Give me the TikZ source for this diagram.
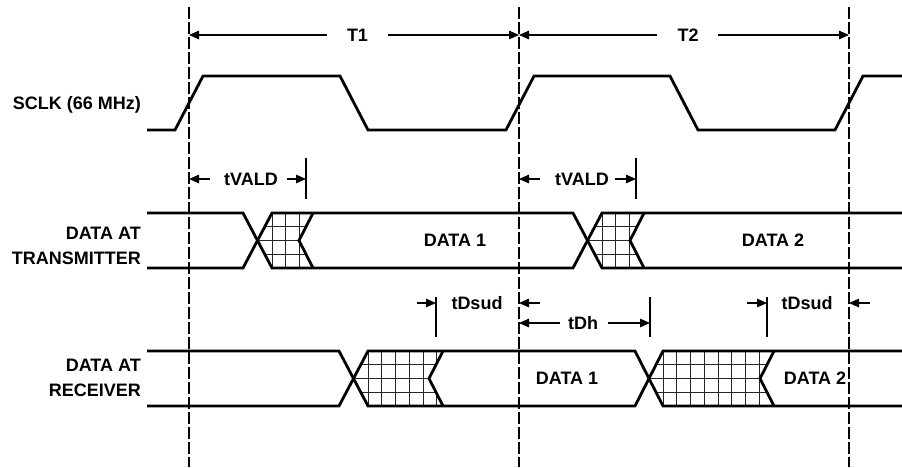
\documentclass[tikz,border=0pt]{standalone}
\usepackage{fontspec}
\setmainfont{Liberation Sans}
\usetikzlibrary{arrows.meta,calc}
\tikzset{
  sig/.style={line width=2.8pt},
  refline/.style={line width=1.2pt,dash pattern=on 12pt off 3pt},
  marker/.style={line width=1.3pt},
  dim/.style={line width=1.3pt,-{Triangle[length=10pt,width=8.5pt]}},
  lbl/.style={font=\fontsize{18}{25}\selectfont\bfseries,inner sep=0pt},
  hatchline/.style={line width=0.9pt,black!85}
}
\newcommand{\hatchfill}[4]{%
  \begin{scope}
    \clip ({#1-14.5},{(#3+#4)/2}) -- (#1,#3) -- (#2,#3) -- ({#2-14},{(#3+#4)/2}) -- (#2,#4) -- (#1,#4) -- cycle;
    \foreach \k in {-1,...,10} \draw[hatchline] ({#1+\k*13.75},#3) -- ({#1+\k*13.75},#4);
    \foreach \k in {1,2,3} \draw[hatchline] ({#1-15},{#3+\k*(#4-#3)/4}) -- (#2,{#3+\k*(#4-#3)/4});
  \end{scope}}

\begin{document}
\begin{tikzpicture}[x=1pt,y={(0pt,-1pt)}]
    \useasboundingbox (0,0) rectangle (902,467);
    \foreach \n/\x in {e0/189,e1/519,e2/849} {
      \coordinate (\n) at (\x,7);
      \draw[refline] (\n) -- (\x,467);
    }
    \hatchfill{272}{313}{213}{268}
    \hatchfill{602}{644}{213}{268}
    \hatchfill{368}{443}{351}{406}
    \hatchfill{663}{774}{351}{406}
    \draw[sig] plot coordinates {
      (147,130) (175,130) (203,76) (340,76) (368,130) (506,130) (534,76) (670,76) (698,130) (835,130) (863,76) (902,76)
    };
    \draw[sig] plot coordinates {(147,213) (243,213) (272,268) (573,268) (602,213) (902,213)};
    \draw[sig] plot coordinates {(147,268) (243,268) (272,213) (573,213) (602,268) (902,268)};
    \draw[sig] plot coordinates {(147,351) (339,351) (368,406) (635,406) (663,351) (902,351)};
    \draw[sig] plot coordinates {(147,406) (339,406) (368,351) (635,351) (663,406) (902,406)};
    \foreach \x/\t/\b in {313/213/268,644/213/268,443/351/406,774/351/406} {
      \draw[sig] (\x,\t) -- ({\x-14},{(\t+\b)/2}) -- (\x,\b);
    }
    \node[lbl,anchor=base east] (sclk) at (141,109) {SCLK (66 MHz)};
    \node[lbl,anchor=east,align=right] (tx) at (141,246) {DATA AT\\TRANSMITTER};
    \node[lbl,anchor=east,align=right] (rx) at (141,378) {DATA AT\\RECEIVER};
    \node[lbl] (txd1) at (455,240) {DATA 1};
    \node[lbl] (txd2) at (773,240) {DATA 2};
    \node[lbl] (rxd1) at (567,378) {DATA 1};
    \node[lbl] (rxd2) at (815,378) {DATA 2};
    \coordinate (m1) at (306,158);
    \coordinate (m2) at (636,158);
    \coordinate (m3) at (436,297);
    \coordinate (m4) at (650,297);
    \coordinate (m5) at (767,297);
    \draw[marker] (m1) -- ++(0,41);
    \draw[marker] (m2) -- ++(0,41);
    \draw[marker] (m3) -- ++(0,40);
    \draw[marker] (m4) -- ++(0,40);
    \draw[marker] (m5) -- ++(0,40);
    \node[lbl] (per1) at (357.5,35) {T1};
    \draw[dim] ([xshift=-30.5pt]per1.center) -- (per1 -| e0);
    \draw[dim] ([xshift=30.5pt]per1.center) -- (per1 -| e1);
    \node[lbl] (per2) at (688,35) {T2};
    \draw[dim] ([xshift=-31pt]per2.center) -- (per2 -| e1);
    \draw[dim] ([xshift=30pt]per2.center) -- (per2 -| e2);
    \node[lbl] (vald1) at (251,179) {tVALD};
    \draw[dim] ([xshift=-41pt]vald1.center) -- (vald1 -| e0);
    \draw[dim] ([xshift=36pt]vald1.center) -- (vald1 -| m1);
    \node[lbl] (vald2) at (582,179) {tVALD};
    \draw[dim] ([xshift=-42pt]vald2.center) -- (vald2 -| e1);
    \draw[dim] ([xshift=33pt]vald2.center) -- (vald2 -| m2);
    \node[lbl] (sud1) at (477,303) {tDsud};
    \draw[dim] ([xshift=-19pt]m3 |- sud1) -- (m3 |- sud1);
    \draw[dim] ([xshift=21pt]e1 |- sud1) -- (e1 |- sud1);
    \node[lbl] (hold) at (583,323) {tDh};
    \draw[dim] ([xshift=-23pt]hold.center) -- (hold -| e1);
    \draw[dim] ([xshift=25pt]hold.center) -- (hold -| m4);
    \node[lbl] (sud2) at (807,303) {tDsud};
    \draw[dim] ([xshift=-20pt]m5 |- sud2) -- (m5 |- sud2);
    \draw[dim] ([xshift=21pt]e2 |- sud2) -- (e2 |- sud2);
  \end{tikzpicture}
\end{document}
